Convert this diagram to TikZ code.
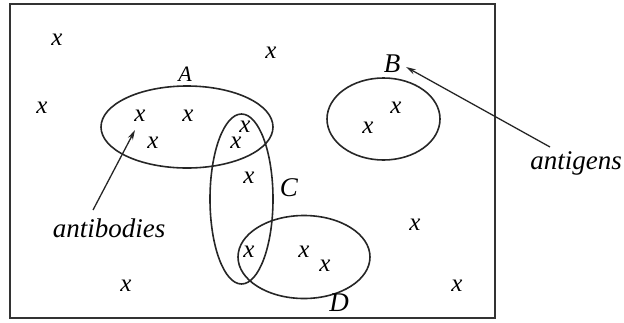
\documentclass[tikz,border=0pt]{standalone}
\usepackage{fontspec}
\setmainfont{Liberation Serif}
\usetikzlibrary{shapes.geometric,arrows.meta}
\tikzset{
  pt/.style={font=\fontsize{25}{28}\selectfont\itshape, inner sep=0pt},
  lbl/.style={font=\fontsize{27}{30}\selectfont\itshape, inner sep=0pt},
  set/.style={draw=black!85, line width=1.6pt, ellipse, inner sep=0pt},
  ptr/.style={draw=black!85, line width=1.3pt, -{Stealth[length=10pt,width=5.5pt]}}
}
\begin{document}
\begin{tikzpicture}[x=1pt,y=-1pt]
\useasboundingbox (0,0) rectangle (624,322);
\draw[black!80, line width=1.6pt] (10,4) rectangle (495,318);
% sets
\node[set, minimum width=172pt, minimum height=82pt] (setA) at (187,127) {};
\node[set, minimum width=113pt, minimum height=82pt] (setB) at (383.5,119) {};
\node[set, minimum width=63pt, minimum height=170pt] (setC) at (241.5,199) {};
\node[set, minimum width=132pt, minimum height=83pt] (setD) at (304,257) {};
% elements
\node[pt] (x1) at (57,40) {x};
\node[pt] (x2) at (271,53) {x};
\node[pt] (x3) at (42,108) {x};
\node[pt] (x4) at (140,116) {x};
\node[pt] (x5) at (188,116) {x};
\node[pt] (x6) at (153,143) {x};
\node[pt] (x7) at (245,127) {x};
\node[pt] (x8) at (236,143) {x};
\node[pt] (x9) at (249,178) {x};
\node[pt] (x10) at (249,252) {x};
\node[pt] (x11) at (304,252) {x};
\node[pt] (x12) at (325,266) {x};
\node[pt] (x13) at (126,286) {x};
\node[pt] (x14) at (415,225) {x};
\node[pt] (x15) at (457,286) {x};
\node[pt] (x16) at (396,108) {x};
\node[pt] (x17) at (368,128) {x};
% labels
\node[lbl, font=\fontsize{22}{26}\selectfont\itshape] (lA) at (185,74) {A};
\node[lbl] (lB) at (392,64) {B};
\node[lbl] (lC) at (289,188) {C};
\node[lbl] (lD) at (339,303) {D};
\node[lbl, anchor=base] (antibodies) at (109,237) {antibodies};
\node[lbl, anchor=base] (antigens) at (576,169) {antigens};
% pointers
\coordinate (abtip) at (135,130);
\coordinate (abtail) at (93,210);
\coordinate (agtip) at (406,67);
\coordinate (agtail) at (550,147);
\draw[ptr] (abtail) -- (abtip);
\draw[ptr] (agtail) -- (agtip);
\end{tikzpicture}
\end{document}
